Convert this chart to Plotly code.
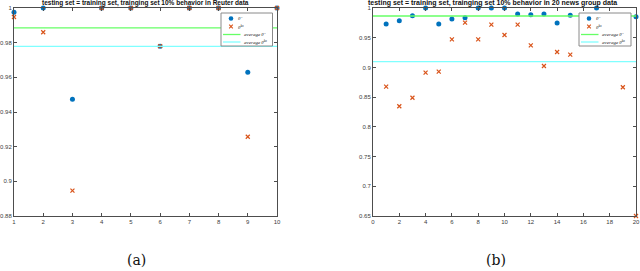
import plotly.graph_objects as go
import numpy as np

# ---- data (a) Reuter ----
x_a = list(range(1, 11))
theta_a = [0.9975, 1.0, 0.9473, 1.0, 1.0, 0.978, 1.0, 1.0, 0.963, 1.0]
theta_hs_a = [0.9948, 0.986, 0.8946, 1.0, 1.0, 0.978, 1.0, 1.0, 0.9257, 1.0]
xrange_a = [1, 10]
yrange_a = [0.88, 1.0]
yticks_a = [0.88, 0.9, 0.92, 0.94, 0.96, 0.98, 1.0]
yticktext_a = ["0.88", "0.9", "0.92", "0.94", "0.96", "0.98", "1"]

# ---- data (b) 20 news group ----
x_b = list(range(1, 21))
theta_b = [0.973, 0.9787, 0.987, 1.0, 0.973, 0.9815, 0.9837, 1.0, 1.0, 1.0,
           0.990, 0.9888, 0.990, 0.9747, 0.9877, 0.975, 1.0, 0.980, 0.982, 0.9854]
theta_hs_b = [0.8676, 0.8346, 0.849, 0.8912, 0.8929, 0.9473, 0.9753, 0.9473, 0.972, 0.9546,
              0.972, 0.9372, 0.9024, 0.926, 0.9215, 0.958, 0.962, 0.966, 0.8666, 0.65]
xrange_b = [0, 20]
yrange_b = [0.65, 1.0]
yticks_b = [0.65, 0.7, 0.75, 0.8, 0.85, 0.9, 0.95, 1.0]
yticktext_b = ["0.65", "0.7", "0.75", "0.8", "0.85", "0.9", "0.95", "1"]

legend_labels = ["<i>θ̂</i>", "<i>θ̂<sup>hs</sup></i>", "<i>average θ̂</i>", "<i>average θ̂<sup>hs</sup></i>"]

title_a = "testing set = training set, trainging set 10% behavior in Reuter data"
title_b = "testing set = training set, trainging set 10% behavior in 20 news group data"

BLUE = "#0072BD"
ORANGE = "#D95319"
GREEN = "#66ff66"
CYAN = "#80ffff"
AX = "#4d4d4d"
W, H = 640, 271


def X(px):
    return px / W


def Y(py):
    return 1 - py / H


fig = go.Figure()


def add_panel(xs, th, ths, xr, xa, ya):
    fig.add_trace(go.Scatter(x=xs, y=th, mode="markers", name="θ̂",
                             marker=dict(color=BLUE, size=5, symbol="circle"),
                             xaxis=xa, yaxis=ya, cliponaxis=False))
    fig.add_trace(go.Scatter(x=xs, y=ths, mode="markers", name="θ̂hs",
                             marker=dict(color=ORANGE, size=4, symbol="x-thin",
                                         line=dict(color=ORANGE, width=1.2)),
                             xaxis=xa, yaxis=ya, cliponaxis=False))
    fig.add_trace(go.Scatter(x=xr, y=[float(np.mean(th))] * 2, mode="lines",
                             name="average θ̂", line=dict(color=GREEN, width=1.3),
                             xaxis=xa, yaxis=ya))
    fig.add_trace(go.Scatter(x=xr, y=[float(np.mean(ths))] * 2, mode="lines",
                             name="average θ̂hs", line=dict(color=CYAN, width=1.3),
                             xaxis=xa, yaxis=ya))


add_panel(x_a, theta_a, theta_hs_a, xrange_a, "x", "y")
add_panel(x_b, theta_b, theta_hs_b, xrange_b, "x2", "y2")

shapes = []
annotations = []


def manual_legend(x0, y0, x1, y1):
    shapes.append(dict(type="rect", xref="paper", yref="paper",
                       x0=X(x0), x1=X(x1), y0=Y(y1), y1=Y(y0),
                       fillcolor="white", line=dict(color="#8a8a8a", width=1), layer="above"))
    rows = [y0 + 5.5, y0 + 13.5, y0 + 21.5, y0 + 29]
    mx = x0 + 10
    shapes.append(dict(type="circle", xref="paper", yref="paper",
                       x0=X(mx - 2.3), x1=X(mx + 2.3), y0=Y(rows[0] + 2.3), y1=Y(rows[0] - 2.3),
                       fillcolor=BLUE, line=dict(color=BLUE, width=0), layer="above"))
    r = 1.8
    for sgn in (1, -1):
        shapes.append(dict(type="line", xref="paper", yref="paper",
                           x0=X(mx - r), x1=X(mx + r), y0=Y(rows[1] - sgn * r), y1=Y(rows[1] + sgn * r),
                           line=dict(color=ORANGE, width=1.1), layer="above"))
    for row, col in ((rows[2], GREEN), (rows[3], CYAN)):
        shapes.append(dict(type="line", xref="paper", yref="paper",
                           x0=X(x0 + 2), x1=X(x0 + 19.5), y0=Y(row), y1=Y(row),
                           line=dict(color=col, width=1.3), layer="above"))
    for i, lab in enumerate(legend_labels):
        tx = x0 + 14.5 if i < 2 else x0 + 20.5
        annotations.append(dict(text=lab, x=X(tx), y=Y(rows[i]), xref="paper", yref="paper",
                                showarrow=False, xanchor="left", yanchor="middle",
                                font=dict(family="Liberation Serif", size=5, color="#222")))


manual_legend(221, 13, 272.5, 46)
manual_legend(579, 13, 631, 46)

annotations += [
    dict(text="<b>" + title_a + "</b>", x=X(145.5), y=Y(3), xref="paper", yref="paper",
         showarrow=False, xanchor="center", yanchor="middle",
         font=dict(family="Liberation Sans", size=6.5, color="#111")),
    dict(text="<b>" + title_b + "</b>", x=X(492.5), y=Y(3), xref="paper", yref="paper",
         showarrow=False, xanchor="center", yanchor="middle",
         font=dict(family="Liberation Sans", size=7, color="#111")),
    dict(text="(a)", x=X(136.5), y=Y(259.5), xref="paper", yref="paper",
         showarrow=False, xanchor="center", yanchor="middle",
         font=dict(family="DejaVu Serif", size=14, color="#111")),
    dict(text="(b)", x=X(496), y=Y(259.5), xref="paper", yref="paper",
         showarrow=False, xanchor="center", yanchor="middle",
         font=dict(family="DejaVu Serif", size=14, color="#111")),
]

ydom = [Y(216), Y(8)]
axcommon = dict(showline=True, linecolor=AX, linewidth=1, mirror="ticks",
                ticks="inside", ticklen=3, tickcolor=AX, showgrid=False, automargin=False,
                zeroline=False, tickfont=dict(family="Liberation Sans", size=6, color="#404040"))

fig.update_layout(
    width=W, height=H, margin=dict(l=0, r=0, t=0, b=0, autoexpand=False),
    paper_bgcolor="white", plot_bgcolor="white", showlegend=False,
    xaxis=dict(domain=[X(14), X(277)], range=xrange_a, tickvals=x_a, **axcommon),
    yaxis=dict(domain=ydom, range=yrange_a, tickvals=yticks_a, ticktext=yticktext_a, **axcommon),
    xaxis2=dict(domain=[X(373), X(636)], range=xrange_b, dtick=2, anchor="y2", **axcommon),
    yaxis2=dict(domain=ydom, range=yrange_b, tickvals=yticks_b, ticktext=yticktext_b,
                anchor="x2", **axcommon),
    shapes=shapes,
    annotations=annotations,
)

fig.write_html("out.html", config={"displayModeBar": False},
               post_script="document.body.style.margin='0px';document.body.style.overflow='hidden';")
